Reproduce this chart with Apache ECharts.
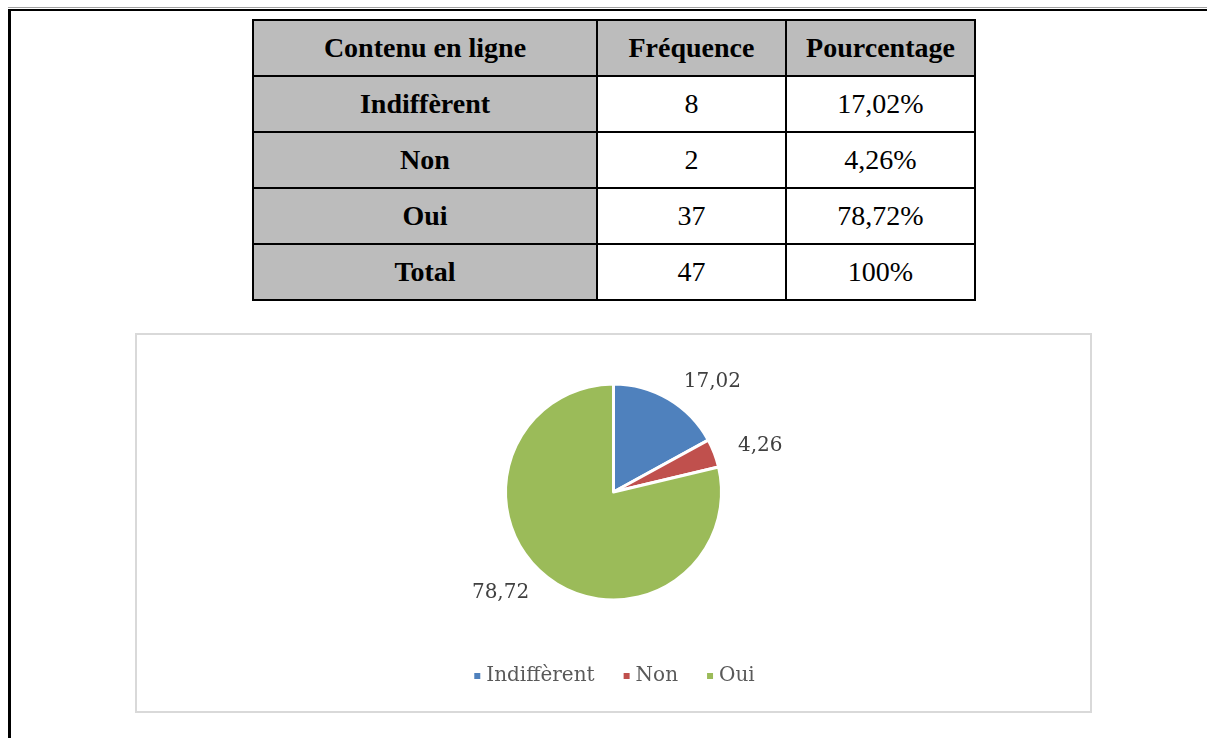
<!DOCTYPE html>
<html>
<head>
<meta charset="utf-8">
<script src="https://cdn.jsdelivr.net/npm/echarts@6/dist/echarts.min.js"></script>
<style>
    html, body { margin: 0; padding: 0; background: #fff; width: 1207px; height: 738px; overflow: hidden; }
    #frame-gray { position: absolute; left: 8px; top: 7px; width: 1199px; height: 1px; background: #a0a0a0; }
    #frame { position: absolute; left: 8px; top: 9px; width: 1199px; height: 729px;
             border-top: 2px solid #000; border-left: 3px solid #000; box-sizing: border-box; }
    #tbl { position: absolute; left: 252px; top: 19px; border-collapse: collapse;
           font-family: "Liberation Serif", "Times New Roman", serif; font-size: 28px; color: #000; }
    #tbl td { border: 2px solid #000; height: 54px; padding: 0; text-align: center; vertical-align: middle; }
    #tbl td.head { background: #bcbcbc; font-weight: bold; }
    #chart-box { position: absolute; left: 135px; top: 333px; width: 957px; height: 380px;
                 border: 2px solid #d9d9d9; box-sizing: border-box; }
    #chart { width: 953px; height: 376px; }
</style>
</head>
<body>
<div id="frame-gray"></div>
<div id="frame"></div>
<table id="tbl"></table>
<div id="chart-box"><div id="chart"></div></div>
<script>
    // donnees du tableau / du camembert
    var headers = ['Contenu en ligne', 'Fréquence', 'Pourcentage'];
    var categories = ['Indiffèrent', 'Non', 'Oui'];
    var frequences = [8, 2, 37];
    var pourcentages = [17.02, 4.26, 78.72];
    var total = 47;
    var colors = ['#4f81bd', '#c0504d', '#9bbb59'];
    var colWidths = [342, 187, 187];

    function fr(v) {
        return v.toFixed(2).replace('.', ',');
    }

    // construction du tableau
    var tbl = document.getElementById('tbl');
    var rows = [headers];
    for (var i = 0; i < categories.length; i++) {
        rows.push([categories[i], String(frequences[i]), fr(pourcentages[i]) + '%']);
    }
    rows.push(['Total', String(total), '100%']);
    for (var r = 0; r < rows.length; r++) {
        var tr = document.createElement('tr');
        for (var c = 0; c < rows[r].length; c++) {
            var td = document.createElement('td');
            td.textContent = rows[r][c];
            td.style.width = colWidths[c] + 'px';
            if (r === 0 || c === 0) td.className = 'head';
            tr.appendChild(td);
        }
        tbl.appendChild(tr);
    }

    var pieData = [];
    for (var k = 0; k < categories.length; k++) {
        pieData.push({name: categories[k], value: pourcentages[k]});
    }

    var myChart = echarts.init(document.getElementById('chart'));
    var option = {
        animation: false,
        color: colors,
        legend: {
            data: categories,
            top: 326,
            left: 'center',
            icon: 'rect',
            itemWidth: 8,
            itemHeight: 8,
            itemGap: 27,
            textStyle: {fontFamily: 'DejaVu Serif', fontSize: 20, color: '#595959'}
        },
        series: [{
            type: 'pie',
            center: ['50%', 157],
            radius: 108,
            startAngle: 90,
            clockwise: true,
            data: pieData,
            itemStyle: {borderColor: '#fff', borderWidth: 3},
            label: {
                show: true,
                position: 'outside',
                formatter: function (p) { return fr(p.value); },
                fontFamily: 'DejaVu Serif',
                fontSize: 20,
                color: '#404040'
            },
            labelLine: {show: false, length: 20, length2: 0},
            emphasis: {disabled: true}
        }]
    };
    myChart.setOption(option);
</script>
</body>
</html>
